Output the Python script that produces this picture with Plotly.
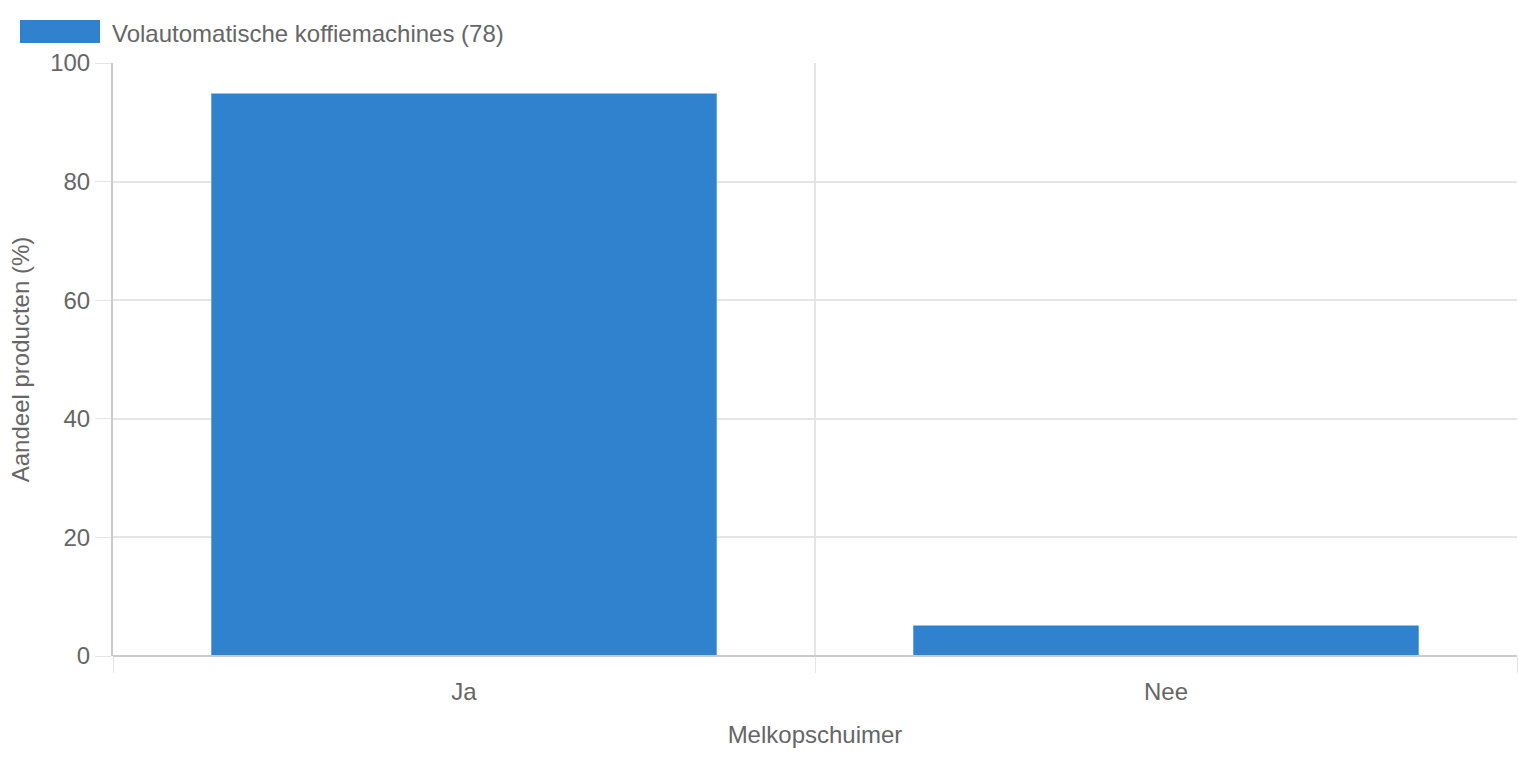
import plotly.graph_objects as go

# Melkopschuimer: share of fully automatic coffee machines (78 products)
categories = ["Ja", "Nee"]
counts = [74, 4]
total = 78
series_name = "Volautomatische koffiemachines (78)"
y_ticks = [0, 20, 40, 60, 80, 100]

shares = [c / total * 100 for c in counts]

BLUE = "#3182ce"
GRID = "#e5e5e5"
AXIS = "#cbcbcb"
TEXT = "#666666"
FONT = "Liberation Sans, Arial, Helvetica, sans-serif"

fig = go.Figure()
fig.add_trace(go.Bar(
    x=categories,
    y=shares,
    name=series_name,
    marker=dict(color=BLUE, line=dict(width=0)),
    showlegend=False,
))

fig.update_layout(
    width=1518,
    height=758,
    margin=dict(l=113, r=1, t=63, b=102),
    paper_bgcolor="white",
    plot_bgcolor="white",
    bargap=0.28,
    font=dict(family=FONT, size=24, color=TEXT),
    xaxis=dict(
        tickson="boundaries",
        ticks="outside",
        ticklen=16,
        tickcolor=GRID,
        ticklabelstandoff=19,
        showgrid=True,
        gridcolor=GRID,
        gridwidth=2,
        showline=False,
        tickfont=dict(size=24, color=TEXT),
        title=dict(text="Melkopschuimer", standoff=22, font=dict(size=24, color=TEXT)),
    ),
    yaxis=dict(
        range=[0, 100],
        tickvals=y_ticks,
        ticks="outside",
        ticklen=16,
        tickcolor=GRID,
        showgrid=True,
        gridcolor=GRID,
        gridwidth=2,
        zeroline=False,
        showline=True,
        linecolor=AXIS,
        linewidth=2,
        tickfont=dict(size=24, color=TEXT),
        title=dict(text="Aandeel producten (%)", standoff=14, font=dict(size=24, color=TEXT)),
    ),
)

# bottom axis line (category axis baseline)
fig.add_shape(type="line", xref="paper", yref="paper", x0=0, x1=1, y0=0, y1=0,
              line=dict(color=AXIS, width=2))

# legend drawn by hand: wide colour box plus label
fig.add_shape(type="rect", xref="paper", yref="paper",
              xsizemode="pixel", ysizemode="pixel", xanchor=0, yanchor=1,
              x0=-93, x1=-13, y0=20, y1=43,
              fillcolor=BLUE, line=dict(width=0))
fig.add_annotation(xref="paper", yref="paper", x=0, y=1, xanchor="left", yanchor="middle",
                   xshift=-3, yshift=30, showarrow=False, text=series_name,
                   font=dict(family=FONT, size=24, color=TEXT))

# drop the default body margin so the figure fills the window exactly
fig.write_html("out.html",
               config={"displayModeBar": False},
               post_script="document.body.style.margin='0';document.body.style.overflow='hidden';")
